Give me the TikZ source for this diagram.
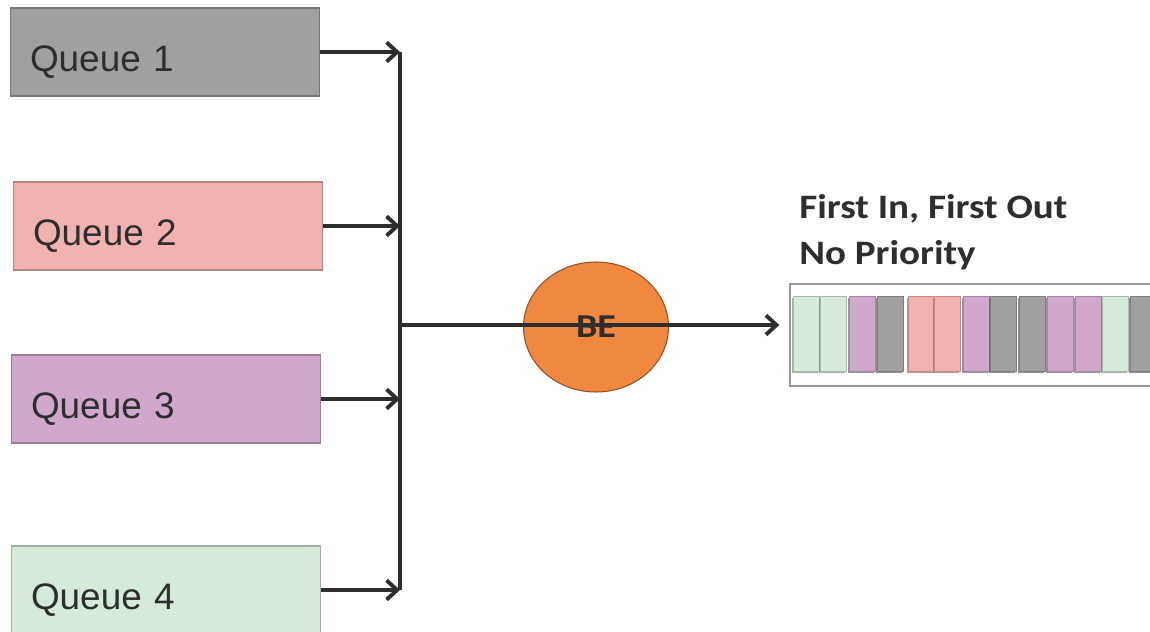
\documentclass[tikz,border=0pt]{standalone}
\usepackage{fontspec}
\setmainfont{Liberation Sans}
\newfontfamily\calfont[FakeStretch=1.14]{Carlito}
\usetikzlibrary{arrows.meta,positioning,shapes.geometric}
\definecolor{qgray}{HTML}{A0A0A0}
\definecolor{qpink}{HTML}{F2B2B2}
\definecolor{qpurple}{HTML}{D0A8CC}
\definecolor{qgreen}{HTML}{D5EAD9}
\definecolor{beorange}{HTML}{F0883F}
\definecolor{ink}{HTML}{2E2E2E}

\begin{document}
\begin{tikzpicture}[x=0.02cm,y=-0.02cm,
  queue/.style={draw=#1!75!black,fill=#1,line width=0.6pt,minimum height=1.76cm,text width=5.4cm,inner xsep=0.4cm,text height=23pt,text depth=0.5pt,align=left,font=\fontsize{21}{25}\selectfont,text=ink},
  blk/.style={fill=#1,draw=#1!80!black,line width=0.5pt},
  flow/.style={draw=ink,line width=2.2pt},
  >={Straight Barb[length=6pt,width=11pt]}]
  \useasboundingbox (0,0) rectangle (1150,632);
  \fill[white] (0,0) rectangle (1150,632);
  \clip (0,0) rectangle (1150,632);

  \node[queue=qgray] (q1) at (165,52) {Queue 1};
  \node[queue=qpink] (q2) at (168,226) {Queue 2};
  \node[queue=qpurple] (q3) at (166,399) {Queue 3};
  \node[queue=qgreen] (q4) at (166,590) {Queue 4};

  \coordinate (t1) at (400,52);
  \coordinate (t2) at (400,226);
  \coordinate (t3) at (400,399);
  \coordinate (t4) at (400,590);
  \coordinate (j) at (400,325);

  \node[ellipse,draw=beorange!60!black,fill=beorange,line width=0.6pt,minimum width=2.9cm,minimum height=2.6cm,font=\calfont\bfseries\fontsize{19}{20}\selectfont,text=ink] (be) at (596,327) {BE};

  \node[draw=gray!80,fill=white,line width=0.8pt,minimum width=7.4cm,minimum height=2.04cm] (fifo) at (975,335) {};
  \foreach \x/\c in {793/qgreen,820/qgreen,849/qpurple,877/qgray,908/qpink,934/qpink,963/qpurple,990/qgray,1019/qgray,1047/qpurple,1075/qpurple,1102/qgreen,1130/qgray}{
    \fill[\c!60!black,opacity=0.7] (\x-1.5,297.5) rectangle ++(26,75);
    \draw[blk=\c] (\x,296) rectangle ++(26,75);
  }
  \node[anchor=north west,align=left,inner sep=0pt,font=\calfont\bfseries\fontsize{19.5}{26}\selectfont,text=ink] (title) at (799,194) {First In, First Out\\No Priority};

  \draw[flow] (t1) -- (t4);
  \foreach \i in {1,...,4}
    \draw[flow,->] (q\i.east) -- (t\i);
  \draw[flow,->,shorten >=0.2cm] (j) -- (j -| fifo.west);
\end{tikzpicture}
\end{document}
